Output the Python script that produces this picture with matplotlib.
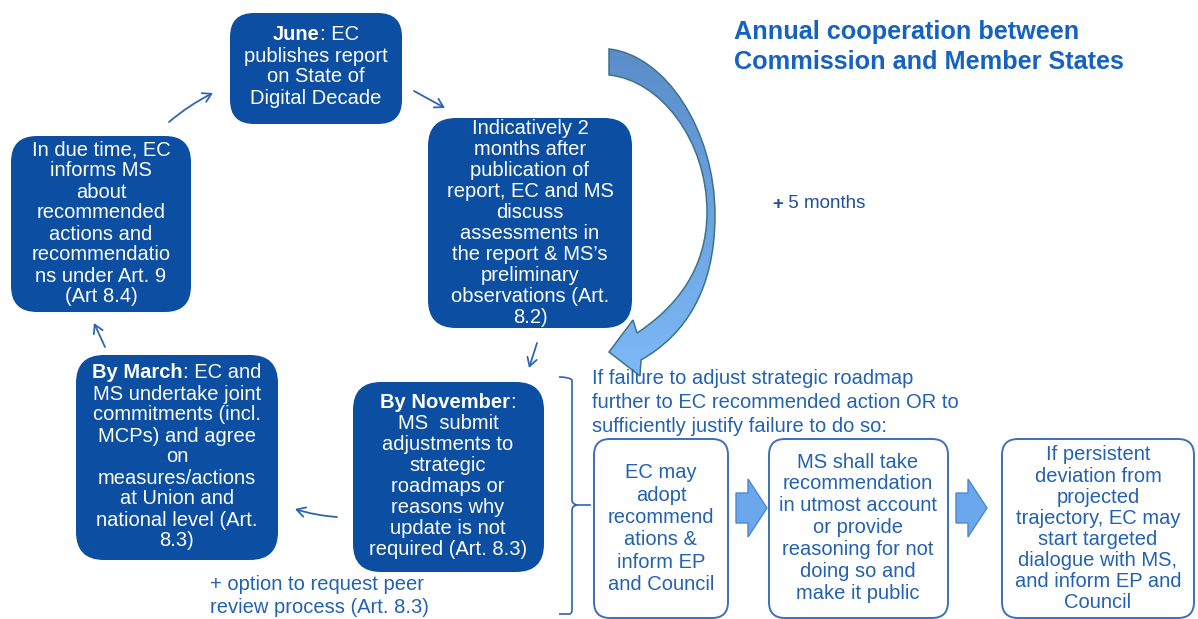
import matplotlib
matplotlib.use("Agg")
import matplotlib.pyplot as plt
from matplotlib.patches import FancyBboxPatch, PathPatch, Polygon
from matplotlib.path import Path
from matplotlib.colors import LinearSegmentedColormap
from matplotlib import font_manager
import numpy as np

# ---------------- content ----------------
title_lines = ["Annual cooperation between", "Commission and Member States"]
june_lines = [[("June", "bold"), (": EC", "normal")], "publishes report",
              "on State of", "Digital Decade"]
inform_lines = ["In due time, EC", "informs MS", "about", "recommended",
                "actions and", "recommendatio", "ns under Art. 9", "(Art 8.4)"]
discuss_lines = ["Indicatively 2", "months after", "publication of",
                 "report, EC and MS", "discuss", "assessments in",
                 "the report & MS\u2019s", "preliminary", "observations (Art.",
                 "8.2)"]
march_lines = [[("By March", "bold"), (": EC and", "normal")],
               "MS undertake joint", "commitments (incl.", "MCPs) and agree",
               "on", "measures/actions", "at Union and",
               "national level (Art.", "8.3)"]
november_lines = [[("By November", "bold"), (":", "normal")], "MS  submit",
                  "adjustments to", "strategic", "roadmaps or",
                  "reasons why", "update is not", "required (Art. 8.3)"]
peer_lines = ["+ option to request peer", "review process (Art. 8.3)"]
months_label = [("+", "bold"), (" 5 months", "normal")]
failure_lines = ["If failure to adjust strategic roadmap",
                 "further to EC recommended action OR to",
                 "sufficiently justify failure to do so:"]
step1_lines = ["EC may", "adopt", "recommend", "ations &", "inform EP",
               "and Council"]
step2_lines = ["MS shall take", "recommendation", "in utmost account",
               "or provide", "reasoning for not", "doing so and",
               "make it public"]
step3_lines = ["If persistent", "deviation from", "projected",
               "trajectory, EC may", "start targeted", "dialogue with MS,",
               "and inform EP and", "Council"]

# ---------------- style ----------------
DARK = "#0B4EA2"
TXT_BLUE = "#2361B2"
TITLE_BLUE = "#1562C0"
ARROW_BLUE = "#2F65B0"

names = {f.name for f in font_manager.fontManager.ttflist}
SANS = "Liberation Sans" if "Liberation Sans" in names else "DejaVu Sans"
SIZE = 14.5

W, H = 1198, 619
fig = plt.figure(figsize=(W / 100, H / 100), dpi=100)
ax = fig.add_axes([0, 0, 1, 1])
ax.set_xlim(0, W)
ax.set_ylim(H, 0)
ax.axis("off")
renderer = fig.canvas.get_renderer()


def line_at(x, y, parts, color, size=SIZE, family=SANS, ha="center",
            weight="normal"):
    if isinstance(parts, str):
        parts = [(parts, weight)]
    texts, widths = [], []
    for s, w in parts:
        t = ax.text(0, y, s, ha="left", va="center", fontsize=size,
                    fontweight=w, color=color, family=family, zorder=5)
        texts.append(t)
        widths.append(t.get_window_extent(renderer=renderer).width)
    total = sum(widths)
    x0 = x - total / 2 if ha == "center" else x
    for t, wd in zip(texts, widths):
        t.set_x(x0)
        x0 += wd


def block(lines, cx, y0, dy, color, size=SIZE, family=SANS, ha="center",
          weight="normal"):
    for i, ln in enumerate(lines):
        line_at(cx, y0 + i * dy, ln, color, size, family, ha, weight)


def rbox(x, y, w, h, fc, ec, r, lw=0):
    ax.add_patch(FancyBboxPatch((x, y), w, h,
                                boxstyle=f"round,pad=0,rounding_size={r}",
                                fc=fc, ec=ec, lw=lw, zorder=2))


# dark boxes
rbox(230, 13, 172, 111, DARK, DARK, 24)
block(june_lines, 316, 35, 21, "white")
rbox(11, 136, 180, 176, DARK, DARK, 26)
block(inform_lines, 101, 150, 21, "white")
rbox(428, 118, 204, 210, DARK, DARK, 28)
block(discuss_lines, 530, 128, 21.1, "white")
rbox(76, 355, 202, 205, DARK, DARK, 28)
block(march_lines, 177, 373, 21, "white")
rbox(353, 382, 191, 190, DARK, DARK, 28)
block(november_lines, 448, 402, 21.1, "white")

# white outlined boxes
rbox(594, 439, 134, 179, "white", "#3C70B8", 16, lw=1.4)
block(step1_lines, 661, 473, 22.3, TXT_BLUE)
rbox(769, 439, 179, 179, "white", "#3C70B8", 16, lw=1.4)
block(step2_lines, 858, 462, 21.9, TXT_BLUE)
rbox(1002, 439, 192, 179, "white", "#3C70B8", 16, lw=1.4)
block(step3_lines, 1098, 455, 21.1, TXT_BLUE)

# free texts
block(title_lines, 734, 32, 30, TITLE_BLUE, 18.2, SANS, ha="left",
      weight="bold")
line_at(772, 204, months_label, "#1F4F9F", 13.5, SANS, ha="left")
block(failure_lines, 592, 378, 24.5, TXT_BLUE, SIZE, SANS, ha="left")
block(peer_lines, 210, 585, 22.5, TXT_BLUE, SIZE, SANS, ha="left")

# small connecting arrows
small_arrows = [((169, 122), (213, 93), -0.06),
                ((414, 91), (445, 108), 0.0),
                ((537, 343), (529, 368), 0.0),
                ((337, 517), (295, 509), -0.06),
                ((105, 347), (94, 323), 0.0)]
for (x1, y1), (x2, y2), rad in small_arrows:
    ax.annotate("", xy=(x2, y2), xytext=(x1, y1),
                arrowprops=dict(arrowstyle="->,head_length=0.6,head_width=0.35",
                                color=ARROW_BLUE, lw=1.3,
                                connectionstyle=f"arc3,rad={rad}",
                                shrinkA=0, shrinkB=0), zorder=4)

# block arrows
for x0 in (736, 956):
    pts = [(x0, 493), (x0 + 12, 493), (x0 + 12, 479), (x0 + 31, 508),
           (x0 + 12, 537), (x0 + 12, 523), (x0, 523)]
    ax.add_patch(Polygon(pts, closed=True, fc="#6BA7EC", ec="#4D88CF",
                         lw=1.0, zorder=3))

# curved big arrow with gradient
verts = [(609, 49),
         (665, 55), (715, 130), (715, 215),
         (715, 290), (685, 335), (641, 360),
         (640, 376), (609, 352), (633, 320), (637, 333),
         (675, 308), (707, 270), (707, 212),
         (707, 140), (660, 80), (609, 75),
         (609, 49)]
codes = ([Path.MOVETO] + [Path.CURVE4] * 6 + [Path.LINETO] * 4
         + [Path.CURVE4] * 6 + [Path.CLOSEPOLY])
path = Path(verts, codes)
edge = PathPatch(path, fc="none", ec="#3E7389", lw=1.1, zorder=4)
ax.add_patch(edge)
cmap = LinearSegmentedColormap.from_list("g", ["#5A8CC9", "#7DBAF7"])
grad = np.linspace(0, 1, 256).reshape(-1, 1)
im = ax.imshow(grad, extent=[600, 725, 380, 45], cmap=cmap, aspect="auto",
               origin="upper", zorder=3)
im.set_clip_path(PathPatch(path, transform=ax.transData))
ax.set_xlim(0, W)
ax.set_ylim(H, 0)

# bracket
bverts = [(559, 377), (569, 377), (572, 380), (572, 500),
          (572, 504), (577, 505), (572, 506), (572, 510),
          (572, 610), (572, 614), (569, 614), (559, 614)]
bcodes = [Path.MOVETO, Path.CURVE3, Path.CURVE3, Path.LINETO,
          Path.CURVE3, Path.CURVE3, Path.CURVE3, Path.CURVE3,
          Path.LINETO, Path.CURVE3, Path.CURVE3, Path.LINETO]
ax.add_patch(PathPatch(Path(bverts, bcodes), fc="none", ec=ARROW_BLUE,
                       lw=1.2, zorder=4))
ax.plot([577, 590], [505, 505], color=ARROW_BLUE, lw=1.2, zorder=4)

fig.savefig("out.png", dpi=100)
